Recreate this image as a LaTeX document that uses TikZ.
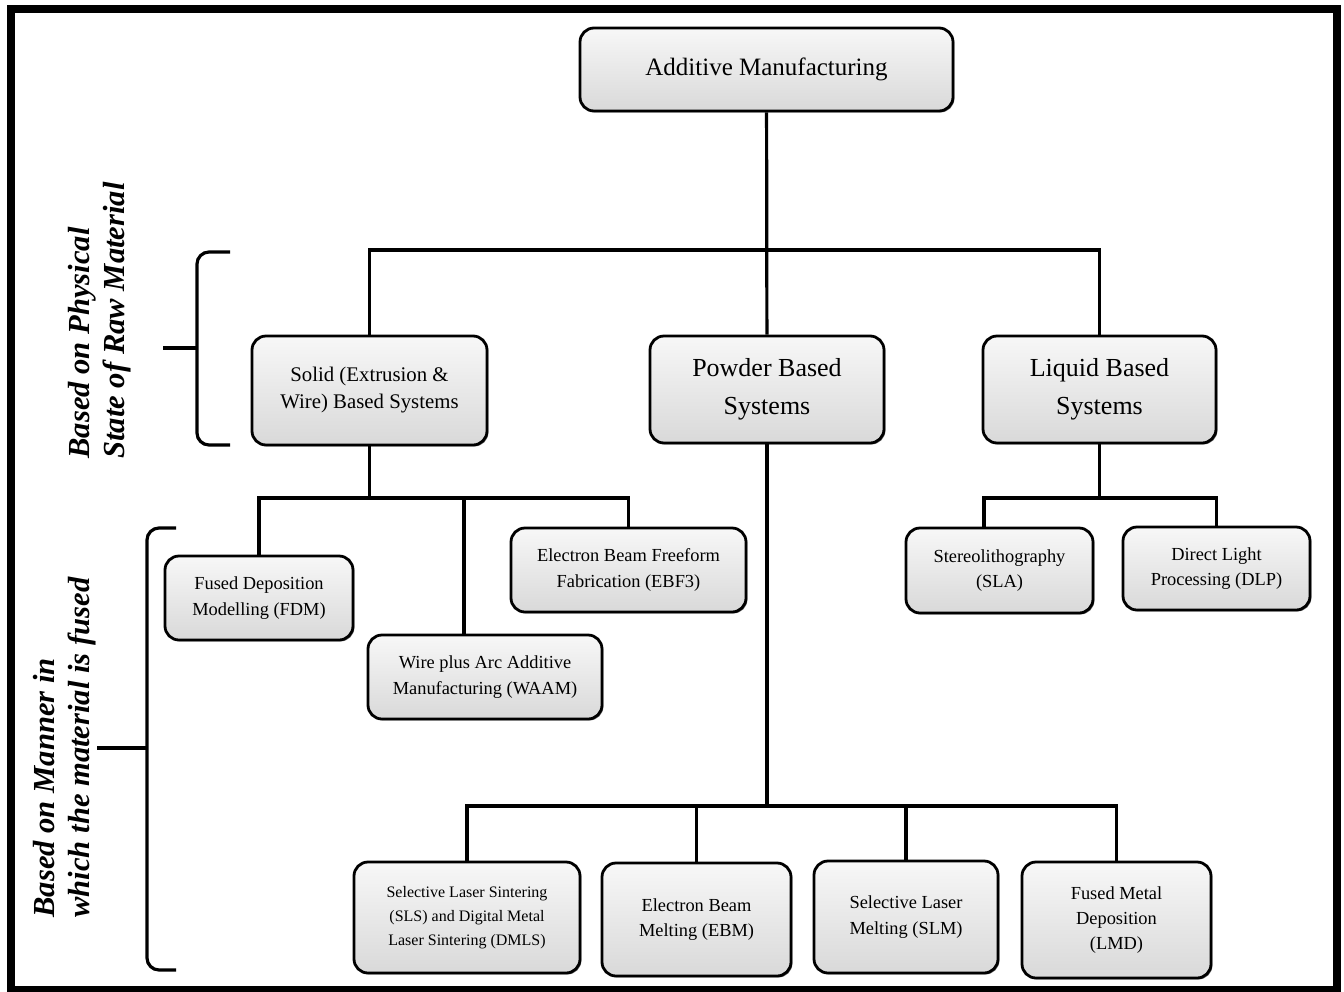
\documentclass[tikz,border=0pt]{standalone}
\usepackage{fontspec}
\setmainfont{Liberation Serif}
\usetikzlibrary{shadows}

\begin{document}
\begin{tikzpicture}[
            x = 0.5pt, y = -0.5pt,
            box/.style = {draw, line width = 1.4pt, rounded corners = 7pt, align = center,
                top color = gray!6, bottom color = gray!30, inner sep = 1pt,
                drop shadow = {shadow xshift = 0.7pt, shadow yshift = -0.7pt, fill = black, opacity = 0.6}},
            big/.style = {box, font = \fontsize{13}{19}\selectfont},
            mid/.style = {box, font = \fontsize{10.4}{13.5}\selectfont},
            sml/.style = {box, font = \fontsize{9.2}{12.6}\selectfont},
            tny/.style = {box, font = \fontsize{8}{12}\selectfont},
            link/.style = {line width = 1.6pt},
            brc/.style = {line width = 1.6pt, rounded corners = 6pt},
            side/.style = {rotate = 90, anchor = west, align = left, inner sep = 0pt,
                font = \fontsize{15.3}{17.5}\selectfont\bfseries\itshape}
        ]
        \useasboundingbox (0,0) rectangle (1344,991);
        \draw[line width = 4pt] (11,9) rectangle (1337,990);

        % top
        \node[big, font = \fontsize{12.5}{15}\selectfont, minimum width = 186.5pt, minimum height = 41.5pt] (AM) at (766.5,69.5) {Additive Manufacturing};

        % physical state
        \node[mid, minimum width = 117.5pt, minimum height = 54.5pt] (Solid) at (369.5,390.5) {Solid (Extrusion \&\\Wire) Based Systems};
        \node[big, minimum width = 117pt, minimum height = 53.5pt] (Powder) at (767,389.5) {Powder Based\\Systems};
        \node[big, minimum width = 116.5pt, minimum height = 53.5pt] (Liquid) at (1099.5,389.5) {Liquid Based\\Systems};

        % solid group
        \node[sml, minimum width = 94pt, minimum height = 42pt] (FDM) at (259,598) {Fused Deposition\\Modelling (FDM)};
        \node[sml, minimum width = 117pt, minimum height = 42pt] (WAAM) at (485,677) {Wire plus Arc Additive\\Manufacturing (WAAM)};
        \node[sml, minimum width = 117.5pt, minimum height = 42pt] (EBF) at (628.5,570) {Electron Beam Freeform\\Fabrication (EBF3)};

        % liquid group
        \node[sml, minimum width = 93.5pt, minimum height = 42.5pt] (SLA) at (999.5,570.5) {Stereolithography\\(SLA)};
        \node[sml, minimum width = 93.5pt, minimum height = 41.5pt] (DLP) at (1216.5,568.5) {Direct Light\\Processing (DLP)};

        % powder group
        \node[tny, minimum width = 113pt, minimum height = 55.5pt] (SLS) at (467,917.5) {Selective Laser Sintering\\(SLS) and Digital Metal\\Laser Sintering (DMLS)};
        \node[sml, minimum width = 94.5pt, minimum height = 56.5pt] (EBM) at (696.5,919.5) {Electron Beam\\Melting (EBM)};
        \node[sml, minimum width = 92pt, minimum height = 56pt] (SLM) at (906,917) {Selective Laser\\Melting (SLM)};
        \node[sml, minimum width = 94.5pt, minimum height = 58pt] (LMD) at (1116.5,920) {Fused Metal\\Deposition\\(LMD)};

        % connectors
        \coordinate (busT) at (767,250);
        \draw[link] (AM) -- (Powder);
        \draw[link] (Solid.north) |- (busT) -| (Liquid.north);

        \coordinate (busS) at (369.5,498);
        \coordinate (dropW) at (464,498);
        \draw[link] (Solid) -- (busS);
        \draw[link] (FDM.north) |- (busS) -| (EBF.north);
        \draw[link] (dropW) -- (dropW |- WAAM.north);

        \coordinate (busL) at (1099.5,498);
        \coordinate (dropA) at (984,498);
        \draw[link] (Liquid) -- (busL);
        \draw[link] (dropA |- SLA.north) -- (dropA) -| (DLP.north);

        \coordinate (busP) at (767,806);
        \draw[link] (Powder) -- (busP);
        \draw[link] (SLS.north) |- (busP) -| (LMD.north);
        \draw[link] (EBM.north) -- (EBM.north |- busP);
        \draw[link] (SLM.north) -- (SLM.north |- busP);

        % braces
        \draw[brc] (230,252) -- (197,252) -- (197,445) -- (230,445);
        \draw[link] (197,348) -- (163,348);
        \draw[brc] (176,528) -- (147,528) -- (147,970) -- (176,970);
        \draw[link] (147,748) -- (97,748);

        \node[side] (stateLbl) at (100,459) {Based on Physical\\State of Raw Material};
        \node[side] (mannerLbl) at (65,918) {Based on Manner in\\which the material is fused};
    \end{tikzpicture}
\end{document}
